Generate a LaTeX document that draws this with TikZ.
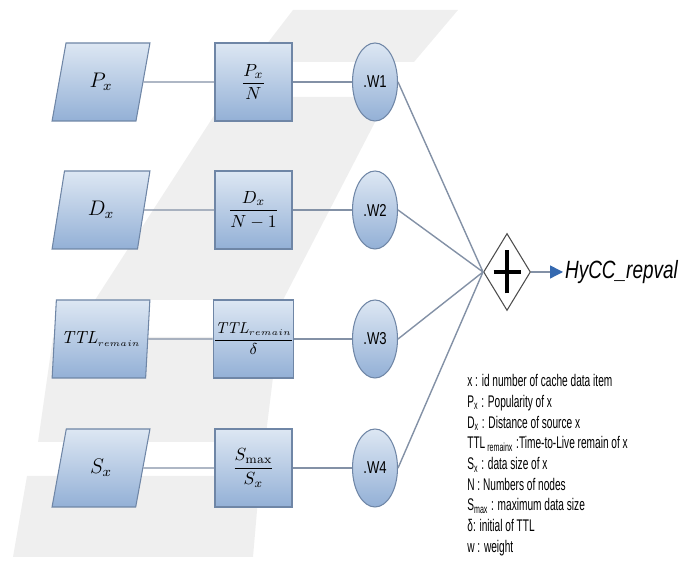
\documentclass[tikz,border=0pt]{standalone}
\usepackage{amsmath}
\usepackage{fontspec}
\usepackage{tikz}
\usetikzlibrary{arrows.meta, shapes.geometric}
\newfontfamily\narrowsans[FakeStretch=0.76]{Liberation Sans}
\newfontfamily\legendsans[FakeStretch=0.60]{Liberation Sans}
\definecolor{nodetop}{HTML}{DDE7F3}
\definecolor{nodebottom}{HTML}{93B0D6}
\definecolor{nodeedge}{HTML}{6F86A6}
\definecolor{linkgray}{HTML}{8391A6}
\definecolor{markgray}{HTML}{EFEFEF}
\definecolor{arrowblue}{HTML}{3569B0}

\begin{document}
\begin{tikzpicture}[
    >={Latex[length=2.4mm,width=2.0mm]},
    inputbox/.style={
      trapezium, trapezium left angle=75.6, trapezium right angle=104.4,
      trapezium stretches=true,
      draw=nodeedge, top color=nodetop, bottom color=nodebottom,
      line width=0.6pt, inner sep=0pt,
      minimum width=1.96cm, minimum height=1.56cm,
      font=\large,
    },
    ratiobox/.style={
      rectangle, draw=nodeedge, top color=nodetop, bottom color=nodebottom,
      line width=0.6pt, inner sep=0pt,
      minimum width=1.54cm, minimum height=1.56cm,
    },
    weightnode/.style={
      ellipse, draw=nodeedge, top color=nodetop, bottom color=nodebottom,
      line width=0.6pt, inner sep=0pt,
      minimum width=0.90cm, minimum height=1.56cm,
      font=\narrowsans\fontsize{9.8}{12}\selectfont,
    },
    sumnode/.style={
      diamond, draw=black!70, fill=white, line width=0.6pt, inner sep=0pt,
      minimum width=0.94cm, minimum height=1.54cm,
    },
    plusbar/.style={line width=1.8pt, color=black},
    linkline/.style={line width=0.8pt, color=linkgray},
    outarrow/.style={line width=0.8pt, color=linkgray,
                     -{Triangle[length=2.6mm,width=2.6mm,color=arrowblue]}},
    outlabel/.style={font=\narrowsans\itshape\fontsize{14.2}{16}\selectfont,
                     anchor=west, inner sep=1pt},
    legendtext/.style={font=\legendsans\fontsize{9.6}{11.8}\selectfont,
                       align=left, anchor=north west, inner sep=0pt},
  ]
  \useasboundingbox (0,0) rectangle (13.78,11.24);

  % -----------------------------------------------------------
  % Grey watermark bars behind the diagram
  % -----------------------------------------------------------
  \fill[markgray] (5.86,11.04) -- (9.16,11.04) -- (8.28,10.00) -- (5.06,10.00) -- cycle;
  \fill[markgray] (4.52,9.30) -- (7.76,9.30) -- (5.66,5.24) -- (1.90,5.24) -- cycle;
  \fill[markgray] (1.06,4.50) -- (5.56,4.50) -- (5.30,2.40) -- (0.76,2.40) -- cycle;
  \fill[markgray] (0.54,1.72) -- (5.20,1.72) -- (5.06,0.10) -- (0.26,0.10) -- cycle;

  % -----------------------------------------------------------
  % Input values (left)
  % -----------------------------------------------------------
  \node[inputbox] (px)  at (2.02, 9.60) {$P_x$};
  \node[inputbox] (dx)  at (2.02, 7.04) {$D_x$};
  \node[inputbox, font=\normalsize]
                  (ttl) at (2.02, 4.46) {$\mathit{TTL}_{\scriptscriptstyle remain}$};
  \node[inputbox] (sx)  at (2.02, 1.88) {$S_x$};

  % -----------------------------------------------------------
  % Normalised values (middle)
  % -----------------------------------------------------------
  \node[ratiobox] (pxn)  at (5.07, 9.60) {$\dfrac{P_x}{N}$};
  \node[ratiobox] (dxn)  at (5.07, 7.04) {$\dfrac{D_x}{N-1}$};
  \node[ratiobox, font=\small]
                  (ttlr) at (5.07, 4.46)
                  {$\dfrac{\mathit{TTL}_{\scriptscriptstyle remain}}{\delta}$};
  \node[ratiobox] (sxr)  at (5.07, 1.88) {$\dfrac{S_{\max}}{S_x}$};

  % -----------------------------------------------------------
  % Weights
  % -----------------------------------------------------------
  \node[weightnode] (w1) at (7.50, 9.60) {.W1};
  \node[weightnode] (w2) at (7.50, 7.04) {.W2};
  \node[weightnode] (w3) at (7.50, 4.46) {.W3};
  \node[weightnode] (w4) at (7.50, 1.88) {.W4};

  \draw[linkline] (px)  -- (pxn);  \draw[linkline] (pxn)  -- (w1);
  \draw[linkline] (dx)  -- (dxn);  \draw[linkline] (dxn)  -- (w2);
  \draw[linkline] (ttl) -- (ttlr); \draw[linkline] (ttlr) -- (w3);
  \draw[linkline] (sx)  -- (sxr);  \draw[linkline] (sxr)  -- (w4);

  % -----------------------------------------------------------
  % Sum and result
  % -----------------------------------------------------------
  \node[sumnode] (sum) at (10.14, 5.80) {};
  \draw[plusbar] ([xshift=-0.27cm]sum.center) -- ([xshift=0.27cm]sum.center);
  \draw[plusbar] ([yshift=-0.43cm]sum.center) -- ([yshift=0.43cm]sum.center);

  \draw[linkline] (w1.east) -- (sum.west);
  \draw[linkline] (w2.east) -- (sum.west);
  \draw[linkline] (w3.east) -- (sum.west);
  \draw[linkline] (w4.east) -- (sum.west);

  \node[outlabel] (out) at (11.26, 5.80) {HyCC\_repval};
  \draw[outarrow] (sum.east) -- (out.west);

  % -----------------------------------------------------------
  % Legend
  % -----------------------------------------------------------
  \node[legendtext] (legend) at (9.34, 3.76)
        {x : id number of cache data item\\
         P\textsubscript{x} : Popularity of x\\
         D\textsubscript{x} : Distance of source x\\
         TTL\textsubscript{\,remainx} :Time-to-Live remain of x\\
         S\textsubscript{x} : data size of x\\
         N : Numbers of nodes\\
         S\textsubscript{max} : maximum data size\\
         δ: initial of TTL\\
         w : weight};

\end{tikzpicture}
\end{document}
